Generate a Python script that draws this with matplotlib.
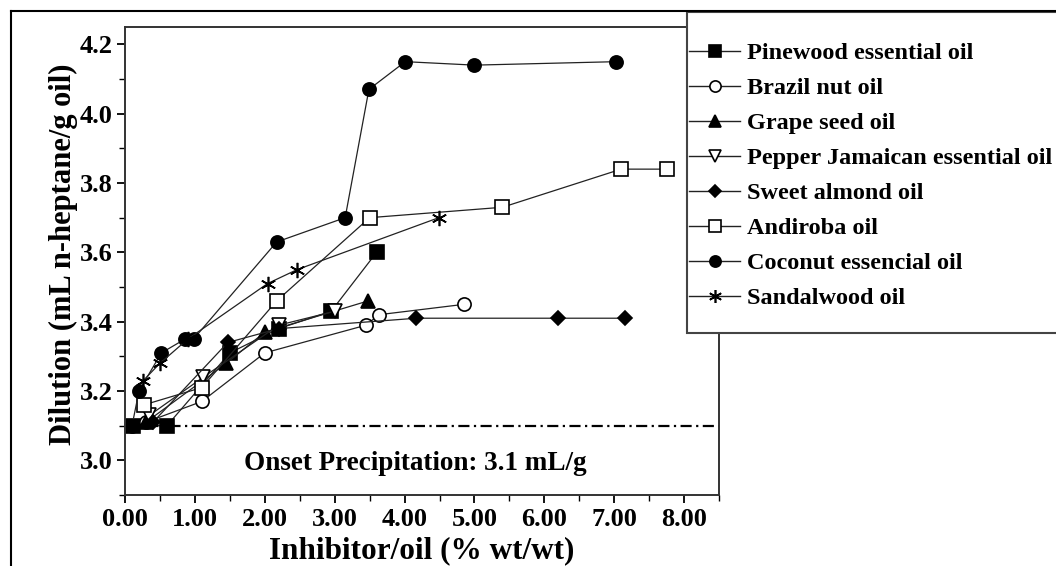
import matplotlib.pyplot as plt
from matplotlib.lines import Line2D
from matplotlib.patches import Rectangle
from matplotlib.ticker import MultipleLocator, FormatStrFormatter

plt.rcParams['font.family'] = ['Liberation Serif', 'DejaVu Serif']
plt.rcParams['font.weight'] = 'bold'
plt.rcParams['axes.labelweight'] = 'bold'

# inhibitor concentration (% wt/wt) vs. dilution at onset (mL n-heptane / g oil)
pine_x = [0.12, 0.6, 1.5, 2.2, 2.95, 3.6]
pine_y = [3.10, 3.10, 3.31, 3.38, 3.43, 3.60]

brazil_x = [0.3, 1.1, 2.0, 3.45, 3.63, 4.85]
brazil_y = [3.11, 3.17, 3.31, 3.39, 3.42, 3.45]

grape_x = [0.3, 1.45, 2.0, 3.48]
grape_y = [3.11, 3.28, 3.37, 3.46]

pepper_x = [0.35, 1.12, 2.2, 3.0]
pepper_y = [3.13, 3.24, 3.39, 3.43]

almond_x = [0.4, 1.47, 2.2, 4.17, 6.2, 7.15]
almond_y = [3.11, 3.34, 3.38, 3.41, 3.41, 3.41]

andiroba_x = [0.27, 1.1, 2.17, 3.5, 5.4, 7.1, 7.75]
andiroba_y = [3.16, 3.21, 3.46, 3.70, 3.73, 3.84, 3.84]

coconut_x = [0.1, 0.2, 0.52, 0.86, 0.98, 2.17, 3.15, 3.49, 4.01, 5.0, 7.03]
coconut_y = [3.10, 3.20, 3.31, 3.35, 3.35, 3.63, 3.70, 4.07, 4.15, 4.14, 4.15]

sandal_x = [0.26, 0.5, 0.9, 2.04, 2.46, 4.49]
sandal_y = [3.23, 3.28, 3.35, 3.51, 3.55, 3.70]

onset = 3.1

series = [
    ('Pinewood essential oil', pine_x, pine_y, 's', 'black'),
    ('Brazil nut oil', brazil_x, brazil_y, 'o', 'white'),
    ('Grape seed oil', grape_x, grape_y, '^', 'black'),
    ('Pepper Jamaican essential oil', pepper_x, pepper_y, 'v', 'white'),
    ('Sweet almond oil', almond_x, almond_y, 'D', 'black'),
    ('Andiroba oil', andiroba_x, andiroba_y, 's', 'white'),
    ('Coconut essencial oil', coconut_x, coconut_y, 'o', 'black'),
    ('Sandalwood oil', sandal_x, sandal_y, (6, 2, 0), 'black'),
]

fig = plt.figure(figsize=(10.56, 5.66), dpi=100)
ax = fig.add_axes([0.1184, 0.1254, 0.5625, 0.8269])

handles = []
for name, xs, ys, mk, fc in series:
    ms = 7.5 if mk == 'D' else 9.5
    if mk == (6, 2, 0):
        ms = 11
    ax.plot(xs, ys, color='#222222', lw=0.9, marker=mk, ms=ms,
            mfc=fc, mec='black', mew=1.2, label=name)
    handles.append(Line2D([], [], color='#222222', lw=1.0, marker=mk,
                          ms=ms * 0.85, mfc=fc, mec='black', mew=1.2))

ax.axhline(onset, color='black', lw=1.6, ls=(0, (5, 2, 1, 2)))
ax.text(4.15, 2.99, 'Onset Precipitation: %.1f mL/g' % onset,
        ha='center', va='center', fontsize=19.5)

ax.set_xlim(0, 8.5)
ax.set_ylim(2.9, 4.25)
ax.xaxis.set_major_locator(MultipleLocator(1))
ax.xaxis.set_minor_locator(MultipleLocator(0.5))
ax.yaxis.set_major_locator(MultipleLocator(0.2))
ax.yaxis.set_minor_locator(MultipleLocator(0.1))
ax.xaxis.set_major_formatter(FormatStrFormatter('%.2f'))
ax.yaxis.set_major_formatter(FormatStrFormatter('%.1f'))
ax.tick_params(which='major', direction='out', length=6, width=1.3,
               labelsize=19, pad=3)
ax.tick_params(which='minor', direction='out', length=4, width=1.0)
for s in ax.spines.values():
    s.set_linewidth(1.4)
    s.set_color('#333333')

ax.set_xlabel('Inhibitor/oil (% wt/wt)', fontsize=22.5, labelpad=4)
ax.set_ylabel('Dilution (mL n-heptane/g oil)', fontsize=22, labelpad=1)
ax.yaxis.label.set_y(0.515)

# outer frame and legend box
fig.add_artist(Line2D([11 / 1056, 11 / 1056], [0, 1 - 11 / 566],
                      transform=fig.transFigure, color='black', lw=1.5))
fig.add_artist(Line2D([11 / 1056, 1], [1 - 11 / 566, 1 - 11 / 566],
                      transform=fig.transFigure, color='black', lw=1.5))
fig.patches.append(Rectangle((687 / 1056, 1 - 333 / 566), 0.4, 321 / 566,
                             transform=fig.transFigure, facecolor='white',
                             edgecolor='#444444', lw=1.5, zorder=1))

fig.legend(handles, [s[0] for s in series], loc='upper left',
           bbox_to_anchor=(689 / 1056, 1 - 42 / 566), frameon=False,
           fontsize=17.5, handlelength=2.1, handletextpad=0.3,
           labelspacing=0.535, borderpad=0, borderaxespad=0)

fig.savefig('out.png', dpi=100)
